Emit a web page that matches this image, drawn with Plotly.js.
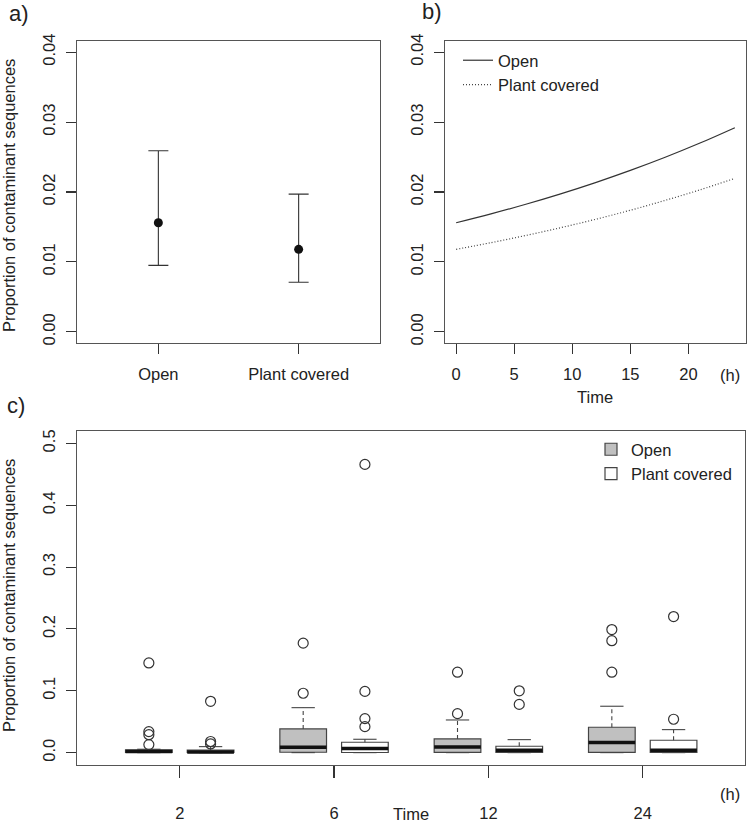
<!DOCTYPE html>
<html>
<head>
<meta charset="utf-8">
<script src="https://cdn.plot.ly/plotly-3.0.1.min.js"></script>
<style>html,body{margin:0;padding:0;background:#fff;}#chart{width:748px;height:822px;}</style>
</head>
<body>
<div id="chart"></div>
<script>
// ---- Panel a data ----
const catsA = ["Open", "Plant covered"];
const meanA = [0.0156, 0.0118];
const upperA = [0.0259, 0.0197];
const lowerA = [0.0095, 0.0071];

// ---- Panel b data ----
const hoursB = [0, 3, 6, 9, 12, 15, 18, 21, 24];
const openB = [0.0156, 0.01687, 0.01825, 0.01974, 0.02135, 0.02309, 0.02497, 0.0270, 0.0292];
const plantB = [0.0118, 0.01275, 0.01378, 0.01489, 0.01609, 0.01739, 0.0188, 0.02031, 0.02195];
const tickB = [0, 5, 10, 15, 20];

// ---- Panel c data ----
const timesC = ["2", "6", "12", "24"];
const openQ1 = [0.0005, 0.0006, 0.0005, 0.0005];
const openMed = [0.002, 0.0087, 0.0092, 0.0162];
const openQ3 = [0.0045, 0.0383, 0.0221, 0.041];
const openLo = [0, 0, 0, 0];
const openHi = [0.0055, 0.0727, 0.0528, 0.075];
const openOut = [[0.145, 0.034, 0.029, 0.013], [0.177, 0.096], [0.130, 0.063], [0.199, 0.181, 0.130]];
const plantQ1 = [0.0002, 0.0002, 0.0002, 0.0002];
const plantMed = [0.001, 0.0065, 0.0038, 0.0038];
const plantQ3 = [0.004, 0.0168, 0.0103, 0.020];
const plantLo = [0, 0, 0, 0];
const plantHi = [0.0097, 0.0216, 0.021, 0.0372];
const plantOut = [[0.083, 0.018, 0.014], [0.466, 0.099, 0.055, 0.042], [0.100, 0.078], [0.220, 0.054]];

const FONT = "Liberation Sans, Arial, Helvetica, sans-serif";
const TXT = "#222";
const FRAME = "#555";
const W = 748, H = 822;
const px = v => v / W;
const py = v => 1 - v / H;

const traces = [];

// Panel a
traces.push({
  type: "scatter", mode: "markers", xaxis: "x", yaxis: "y",
  x: catsA.map((c, i) => i + 1), y: meanA,
  marker: {color: "#111", size: 9},
  error_y: {type: "data", symmetric: false,
    array: upperA.map((u, i) => u - meanA[i]),
    arrayminus: lowerA.map((l, i) => meanA[i] - l),
    color: "#333", thickness: 1.1, width: 10},
  showlegend: false, hoverinfo: "skip"
});

// Panel b
traces.push({type: "scatter", mode: "lines", xaxis: "x2", yaxis: "y2", x: hoursB, y: openB,
  name: "Open", line: {color: "#333", width: 1.2, shape: "spline"}, legend: "legend"});
traces.push({type: "scatter", mode: "lines", xaxis: "x2", yaxis: "y2", x: hoursB, y: plantB,
  name: "Plant covered", line: {color: "#444", width: 1.2, dash: "1px,2px", shape: "spline"}, legend: "legend"});

// Panel c
const openPos = timesC.map((t, i) => 1 + 2.5 * i);
const plantPos = timesC.map((t, i) => 2 + 2.5 * i);
const tickPosC = timesC.map((t, i) => 1.5 + 2.5 * i);
const BW = 0.756;

function addBoxes(pos, q1, med, q3, lo, hi, out, fill, name) {
  traces.push({type: "box", xaxis: "x3", yaxis: "y3", name: name, legend: "legend2",
    x: pos, q1: q1, median: med, q3: q3, lowerfence: q1, upperfence: q3,
    width: BW, whiskerwidth: 0, boxpoints: false,
    fillcolor: fill, line: {color: "#444", width: 1.2}, hoverinfo: "skip"});
  const wx = [], wy = [], cx = [], cy = [], mx = [], my = [], ox = [], oy = [];
  pos.forEach((p, i) => {
    wx.push(p, p, null, p, p, null);
    wy.push(q3[i], hi[i], null, q1[i], lo[i], null);
    cx.push(p - BW / 4, p + BW / 4, null, p - BW / 4, p + BW / 4, null);
    cy.push(hi[i], hi[i], null, lo[i], lo[i], null);
    mx.push(p - BW / 2, p + BW / 2, null);
    my.push(med[i], med[i], null);
    out[i].forEach(v => { ox.push(p); oy.push(v); });
  });
  traces.push({type: "scatter", mode: "lines", xaxis: "x3", yaxis: "y3", x: wx, y: wy,
    line: {color: "#444", width: 1.1, dash: "4px,3px"}, showlegend: false, hoverinfo: "skip"});
  traces.push({type: "scatter", mode: "lines", xaxis: "x3", yaxis: "y3", x: cx, y: cy,
    line: {color: "#444", width: 1.1}, showlegend: false, hoverinfo: "skip"});
  traces.push({type: "scatter", mode: "lines", xaxis: "x3", yaxis: "y3", x: mx, y: my,
    line: {color: "#111", width: 3.5}, showlegend: false, hoverinfo: "skip"});
  traces.push({type: "scatter", mode: "markers", xaxis: "x3", yaxis: "y3", x: ox, y: oy,
    marker: {symbol: "circle-open", size: 10, color: "#333", line: {width: 1.2, color: "#333"}},
    showlegend: false, hoverinfo: "skip"});
}
addBoxes(openPos, openQ1, openMed, openQ3, openLo, openHi, openOut, "#c0c0c0", "Open");
addBoxes(plantPos, plantQ1, plantMed, plantQ3, plantLo, plantHi, plantOut, "#ffffff", "Plant covered");

const axBase = {
  showline: true, mirror: true, linecolor: FRAME, linewidth: 1.2,
  ticks: "outside", ticklen: 10, tickwidth: 1.1, tickcolor: "#333",
  showgrid: false, zeroline: false, tickfont: {family: FONT, size: 16.5, color: TXT},
  fixedrange: true
};

function ann(text, x, y, extra) {
  return Object.assign({text: text, x: px(x), y: py(y), xref: "paper", yref: "paper",
    showarrow: false, xanchor: "center", yanchor: "middle"}, extra || {});
}

const layout = {
  width: W, height: H, margin: {l: 0, r: 0, t: 0, b: 0},
  paper_bgcolor: "#fff", plot_bgcolor: "#fff",
  font: {family: FONT, color: TXT, size: 16.5},
  xaxis: Object.assign({}, axBase, {domain: [px(77), px(380)], range: [0.42, 2.58],
    tickvals: catsA.map((c, i) => i + 1), ticktext: catsA, anchor: "y", ticklabelstandoff: 6}),
  yaxis: Object.assign({}, axBase, {domain: [py(343), py(41)], range: [-0.0016, 0.0416],
    tickvals: [0, 0.01, 0.02, 0.03, 0.04], tickformat: ".2f", tickangle: -90, anchor: "x", ticklabelstandoff: 4}),
  xaxis2: Object.assign({}, axBase, {domain: [px(445), px(746)], range: [-0.96, 24.96],
    tickvals: tickB, anchor: "y2", ticklabelstandoff: 6}),
  yaxis2: Object.assign({}, axBase, {domain: [py(343), py(41)], range: [-0.0016, 0.0416],
    tickvals: [0, 0.01, 0.02, 0.03, 0.04], tickformat: ".2f", tickangle: -90, anchor: "x2", ticklabelstandoff: 4}),
  xaxis3: Object.assign({}, axBase, {domain: [px(77), px(745)], range: [-0.164, 10.657],
    tickvals: tickPosC, ticktext: timesC, anchor: "y3", ticklen: 12, ticklabelstandoff: 21}),
  yaxis3: Object.assign({}, axBase, {domain: [py(765), py(431)], range: [-0.02, 0.52],
    tickvals: [0, 0.1, 0.2, 0.3, 0.4, 0.5], tickformat: ".1f", tickangle: -90, anchor: "x3", ticklabelstandoff: 4}),
  legend: {x: px(458), y: py(43), xanchor: "left", yanchor: "top", bgcolor: "rgba(0,0,0,0)",
    borderwidth: 0, font: {family: FONT, size: 16.5, color: TXT}, tracegroupgap: 0},
  legend2: {x: px(591), y: py(432), xanchor: "left", yanchor: "top", bgcolor: "rgba(0,0,0,0)",
    borderwidth: 0, font: {family: FONT, size: 16.5, color: TXT}},
  annotations: [
    ann("a)", 19, 13, {font: {size: 22}}),
    ann("b)", 432, 12, {font: {size: 22}}),
    ann("c)", 16, 405, {font: {size: 22}}),
    ann("Proportion of contaminant sequences", 9, 196, {textangle: -90}),
    ann("Proportion of contaminant sequences", 9, 596, {textangle: -90}),
    ann("Time", 595, 397),
    ann("Time", 411, 814),
    ann("(h)", 730, 375),
    ann("(h)", 730, 794)
  ]
};

Plotly.newPlot("chart", traces, layout, {displayModeBar: false, staticPlot: true});
</script>
</body>
</html>
